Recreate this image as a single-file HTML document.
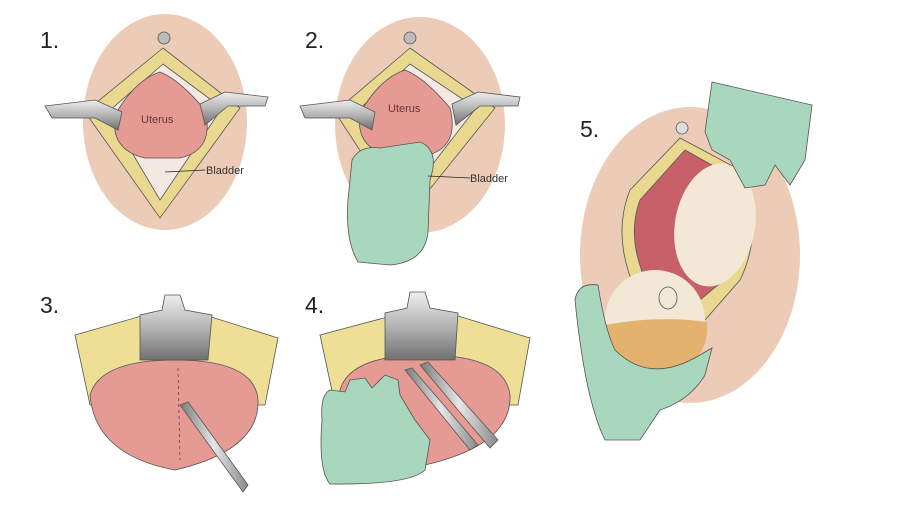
<!DOCTYPE html>
<html><head><meta charset="utf-8"><style>
html,body{margin:0;padding:0;background:#fff;width:900px;height:506px;overflow:hidden}
svg{display:block}
text{font-family:"Liberation Sans",sans-serif}
</style></head><body>
<svg width="900" height="506" viewBox="0 0 900 506" xmlns="http://www.w3.org/2000/svg">
<defs>
<linearGradient id="met" x1="0" y1="0" x2="0" y2="1"><stop offset="0" stop-color="#eeeeee"/><stop offset="0.5" stop-color="#b4b4b4"/><stop offset="1" stop-color="#707070"/></linearGradient>
<linearGradient id="met2" x1="0" y1="0" x2="1" y2="0"><stop offset="0" stop-color="#7a7a7a"/><stop offset="0.5" stop-color="#e6e6e6"/><stop offset="1" stop-color="#8a8a8a"/></linearGradient>
</defs>
<g stroke="#555" stroke-width="0.8">
<!-- Panel 1 -->
<ellipse cx="165" cy="122" rx="82" ry="108" fill="#ecccb6" stroke="none"/>
<circle cx="164" cy="38" r="6" fill="#bbb"/>
<polygon points="163,48 85,112 160,218 240,108" fill="#e8d890"/>
<polygon points="163,64 108,112 160,200 222,108" fill="#f3e8e2"/>
<path d="M160,72 Q180,80 205,110 Q215,150 180,158 L145,158 Q110,150 115,115 Q135,80 160,72 Z" fill="#e69a94"/>
<path d="M45,106 L95,100 L122,112 L118,130 L95,118 L52,118 Z" fill="url(#met)"/>
<path d="M268,97 L225,92 L200,104 L205,125 L228,106 L265,106 Z" fill="url(#met)"/>
<line x1="165" y1="172" x2="205" y2="170" stroke="#222"/>
<!-- Panel 2 -->
<ellipse cx="420" cy="125" rx="85" ry="108" fill="#ecccb6" stroke="none"/>
<circle cx="410" cy="38" r="6" fill="#bbb"/>
<polygon points="410,48 335,112 405,220 495,108" fill="#e8d890"/>
<polygon points="410,64 356,112 405,200 476,108" fill="#f3e8e2"/>
<path d="M405,70 Q425,78 450,108 Q460,148 425,156 L390,156 Q355,148 360,113 Q380,78 405,70 Z" fill="#e69a94"/>
<path d="M300,106 L350,100 L375,112 L372,130 L350,118 L305,118 Z" fill="url(#met)"/>
<path d="M520,97 L478,92 L452,104 L456,125 L480,106 L518,106 Z" fill="url(#met)"/>
<path d="M352,160 Q360,145 380,148 L420,142 Q440,150 430,180 L428,232 Q425,262 390,265 L358,262 Q345,240 348,200 Z" fill="#a9d7bd"/>
<line x1="428" y1="176" x2="470" y2="178" stroke="#222"/>
<!-- Panel 3 -->
<polygon points="75,335 145,315 205,315 278,338 265,405 90,405" fill="#eede96"/>
<path d="M90,395 Q100,360 175,360 Q255,360 258,400 Q260,450 175,470 Q95,455 90,395 Z" fill="#e69a94"/>
<path d="M165,295 L180,295 L185,310 L212,315 L208,360 L140,360 L140,315 L162,310 Z" fill="url(#met)"/>
<line x1="178" y1="368" x2="180" y2="460" stroke="#833" stroke-dasharray="3,3"/>
<path d="M180,405 L188,402 L248,485 L243,492 Z" fill="url(#met2)"/>
<!-- Panel 4 -->
<polygon points="320,335 395,315 455,315 530,338 518,405 335,405" fill="#eede96"/>
<path d="M340,390 Q350,355 425,355 Q505,355 510,395 Q512,445 425,465 Q345,450 340,390 Z" fill="#e69a94"/>
<path d="M410,292 L425,292 L430,308 L458,313 L455,360 L385,360 L385,313 L407,308 Z" fill="url(#met)"/>
<path d="M420,365 L428,362 L498,440 L490,448 Z" fill="url(#met2)"/>
<path d="M405,370 L412,368 L478,445 L470,450 Z" fill="url(#met2)"/>
<path d="M322,420 Q320,395 330,390 L345,392 L350,380 L365,378 L372,388 L385,375 L398,380 L400,395 L415,420 L430,440 L425,470 Q410,485 330,484 Q318,470 322,420 Z" fill="#a9d7bd"/>
<!-- Panel 5 -->
<ellipse cx="690" cy="255" rx="110" ry="148" fill="#ecccb6" stroke="none"/>
<circle cx="682" cy="128" r="6" fill="#ddd"/>
<path d="M680,138 L740,170 Q765,230 740,280 L705,320 L640,300 Q610,240 630,190 Z" fill="#e8d890"/>
<path d="M685,150 L735,178 Q755,230 730,275 L700,300 L650,290 Q625,240 640,200 Z" fill="#c8606a"/>
<ellipse cx="715" cy="225" rx="40" ry="62" fill="#f3e8d6" stroke="none" transform="rotate(10 715 225)"/>
<ellipse cx="655" cy="320" rx="50" ry="50" fill="#f3e8d6" stroke="none"/>
<path d="M605,325 Q660,315 707,322 Q710,370 655,372 Q610,368 605,325 Z" fill="#e2b26e" stroke="none"/>
<ellipse cx="668" cy="298" rx="9" ry="11" fill="#f3e8d6"/>
<path d="M712,82 L812,105 L805,160 L790,185 L775,165 L765,185 L745,188 L730,160 L712,150 L705,132 Z" fill="#a9d7bd"/>
<path d="M575,300 Q578,282 598,285 Q605,330 615,350 Q650,385 700,355 L712,348 L705,375 Q690,400 660,410 L640,440 L605,440 Q585,400 575,300 Z" fill="#a9d7bd"/>
</g>
<g font-size="23" fill="#222">
<text x="40" y="48">1.</text>
<text x="305" y="48">2.</text>
<text x="40" y="313">3.</text>
<text x="305" y="313">4.</text>
<text x="580" y="137">5.</text>
</g>
<g font-size="11" fill="#333">
<text x="141" y="123" font-size="11" fill="#6a3535">Uterus</text>
<text x="388" y="112" font-size="11" fill="#6a3535">Uterus</text>
<text x="206" y="174">Bladder</text>
<text x="470" y="182">Bladder</text>
</g>
</svg>
</body></html>
